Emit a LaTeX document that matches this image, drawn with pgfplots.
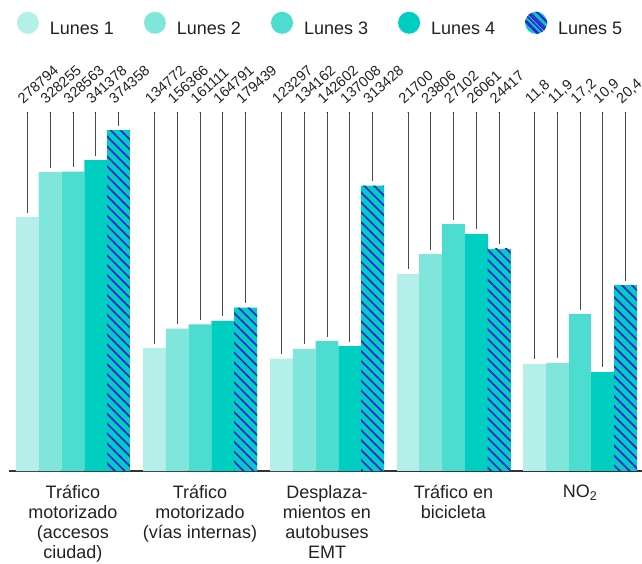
\documentclass[border=0pt]{standalone}
\usepackage{fontspec}
\setmainfont{Liberation Sans}
\usepackage{pgfplots}
\usepackage{pgfplotstable}
\pgfplotsset{compat=1.18}
\usetikzlibrary{patterns.meta}

\definecolor{l1}{HTML}{B4F0E9}
\definecolor{l2}{HTML}{80E6DC}
\definecolor{l3}{HTML}{4DDCD0}
\definecolor{l4}{HTML}{00CEC0}
\definecolor{raya}{HTML}{3C1ED8}
\definecolor{guia}{HTML}{4A4A4A}
\definecolor{texto}{HTML}{222222}
\definecolor{eje}{HTML}{333333}

\newcommand\valfont{\fontsize{14.5bp}{16bp}\selectfont}
\newcommand\catfont{\fontsize{18bp}{20bp}\selectfont}

% group centre (px) and the five Mondays
\pgfplotstableread{
c     l1     l2     l3     l4     l5
72.9  278794 328255 328563 341378 374358
200   134772 156366 161111 164791 179439
327   123297 134162 142602 137008 313428
}\tabA
\pgfplotstableread{
c     l1    l2    l3    l4    l5
453.5 21700 23806 27102 26061 24417
}\tabB
\pgfplotstableread{
c     l1   l2   l3   l4   l5
580   11.8 11.9 17.2 10.9 20.4
}\tabC

\pgfplotsset{
  s1/.style={fill=l1, legend image code/.code={\fill[l1] (11bp,6.4bp) circle (11bp);}},
  s2/.style={fill=l2, legend image code/.code={\fill[l2] (11bp,6.4bp) circle (11bp);}},
  s3/.style={fill=l3, legend image code/.code={\fill[l3] (11bp,6.4bp) circle (11bp);}},
  s4/.style={fill=l4, legend image code/.code={\fill[l4] (11bp,6.4bp) circle (11bp);}},
  s5/.style={fill=l4,
    postaction={pattern={Lines[angle=-45,distance=7bp,line width=1.7bp]}, pattern color=raya},
    legend image code/.code={\fill[l4] (11bp,6.4bp) circle (11bp);
      \fill[pattern={Lines[angle=-45,distance=5bp,line width=1.5bp]}, pattern color=raya] (11bp,6.4bp) circle (11bp);}},
  base/.style={scale only axis, width=633bp, height=358.5bp,
    xmin=9, xmax=642, ymin=0, at={(9bp,0bp)}, anchor=south west, clip=false,
    /pgf/number format/fixed, /pgf/number format/precision=1,
    /pgf/number format/use comma, /pgf/number format/1000 sep={},
    /pgf/number format/assume math mode=true},
}

% one Monday: bar, then leader line from the top down to the bar and the rotated value
\newcommand{\serie}[5]{%
  \addplot[ybar, bar width=22.8bp, bar shift=#3bp, draw=none, #5]
    table[x=c, y=#2] {#1};
  \addplot[forget plot, only marks, mark=*, mark size=0.1pt,
    mark options={draw=none, fill=none},
    nodes near coords, point meta=explicit,
    every node near coord/.style={xshift=-4bp, yshift=8bp, rotate=42,
      anchor=base west, inner sep=0pt, font=\valfont, text=texto},
    error bars/.cd, y dir=minus, y explicit, error mark=none,
    error bar style={draw=guia, line width=0.8bp, shorten >=4.5bp}]
    table[x expr={\thisrow{c}+#3}, y expr={#4}, meta=#2,
      y error expr={#4-\thisrow{#2}}] {#1};
}

\begin{document}
\begin{tikzpicture}
\useasboundingbox (0,-93bp) rectangle (642bp,471bp);
\clip (0,-93bp) rectangle (642bp,471bp);

\begin{axis}[base, ymax=393600,
  axis x line=bottom, axis y line=none,
  x axis line style={-, draw=eje, line width=1.5bp},
  xtick={72.9,200,327,453.5,580}, major tick length=0,
  xticklabels={{Tráfico\\motorizado\\(accesos\\ciudad)},
    {Tráfico\\motorizado\\(vías internas)},
    {Desplaza-\\mientos en\\autobuses\\EMT},
    {Tráfico en\\bicicleta}, {NO\textsubscript{2}}},
  xticklabel style={align=center, font=\catfont, text=texto, anchor=north,
    inner sep=0pt, yshift=-14bp},
  legend columns=5,
  legend entries={Lunes 1,Lunes 2,Lunes 3,Lunes 4,Lunes 5},
  legend style={draw=none, fill=none, inner sep=0pt, at={(0,1)}, anchor=west,
    xshift=7.7bp, yshift=88.5bp, font=\catfont, text=texto,
    nodes={inner sep=0pt},
    /tikz/every odd column/.append style={column sep=11bp},
    /tikz/every even column/.append style={column sep=30bp}},
]
\serie{\tabA}{l1}{-45.6}{393600}{s1}
\serie{\tabA}{l2}{-22.8}{393600}{s2}
\serie{\tabA}{l3}{0}{393600}{s3}
\serie{\tabA}{l4}{22.8}{393600}{s4}
\serie{\tabA}{l5}{45.6}{393600}{s5}
\end{axis}

\begin{axis}[base, ymax=39400, hide axis]
\serie{\tabB}{l1}{-45.6}{39400}{s1}
\serie{\tabB}{l2}{-22.8}{39400}{s2}
\serie{\tabB}{l3}{0}{39400}{s3}
\serie{\tabB}{l4}{22.8}{39400}{s4}
\serie{\tabB}{l5}{45.6}{39400}{s5}
\end{axis}

\begin{axis}[base, ymax=39.4, hide axis]
\serie{\tabC}{l1}{-45.6}{39.4}{s1}
\serie{\tabC}{l2}{-22.8}{39.4}{s2}
\serie{\tabC}{l3}{0}{39.4}{s3}
\serie{\tabC}{l4}{22.8}{39.4}{s4}
\serie{\tabC}{l5}{45.6}{39.4}{s5}
\end{axis}
\end{tikzpicture}
\end{document}
